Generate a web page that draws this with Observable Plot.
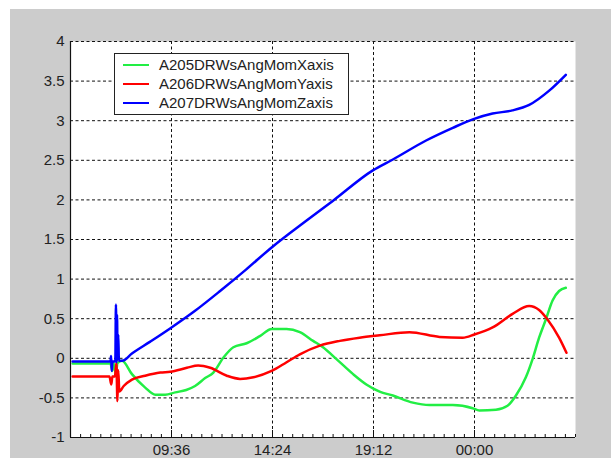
<!DOCTYPE html>
<html>
<head>
<meta charset="utf-8">
<script src="https://cdn.jsdelivr.net/npm/d3@7"></script>
<script src="https://cdn.jsdelivr.net/npm/@observablehq/plot@0.6"></script>
<style>
  html, body { margin: 0; padding: 0; background: #ffffff; }
  #wrap { position: absolute; left: 10px; top: 9px; width: 601px; height: 449px; background: #cccccc; overflow: hidden; }
  #legend { position: absolute; left: 104px; top: 44px; width: 233px; height: 60px; background: #fff; border: 1px solid #222;
            font: 15px "Liberation Sans", Arial, sans-serif; color: #222; }
  .row { position: absolute; left: 0; height: 19px; }
  .sw { position: absolute; left: 8px; width: 26px; height: 2px; }
  .lab { position: absolute; left: 44px; white-space: nowrap; line-height: 19px; }
</style>
</head>
<body>
<div id="wrap"><div id="chart"></div><div id="legend"></div></div>
<script>
// ---- data (hours after 04:48 start) ----
const startTime = "04:48";
const seriesNames = ["A205DRWsAngMomXaxis", "A206DRWsAngMomYaxis", "A207DRWsAngMomZaxis"];
const seriesColors = ["#22ee44", "#ff0000", "#0000ff"];

const hoursX = [0.1, 1.90, 1.99, 2.04, 2.16, 2.23, 2.45, 2.92, 3.55, 4.03, 4.50, 4.98, 5.50, 5.92, 6.40, 6.79, 7.27, 7.74, 8.37, 9.00, 9.56, 10.27, 10.90, 11.53, 12.00, 12.64, 13.43, 14.06, 14.69, 15.32, 16.27, 17.06, 18.17, 19.11, 19.43, 20.22, 20.77, 21.17, 21.64, 21.96, 22.27, 22.59, 22.91, 23.22, 23.54];
const valuesX = [-0.065, -0.065, -0.16, -0.06, -0.19, -0.06, -0.03, -0.20, -0.37, -0.46, -0.46, -0.43, -0.40, -0.35, -0.25, -0.18, 0.01, 0.14, 0.19, 0.28, 0.37, 0.37, 0.33, 0.22, 0.14, -0.01, -0.20, -0.33, -0.42, -0.47, -0.56, -0.59, -0.59, -0.63, -0.66, -0.65, -0.60, -0.47, -0.24, -0.01, 0.26, 0.49, 0.73, 0.85, 0.89];

const hoursY = [0.1, 1.85, 1.94, 1.99, 2.11, 2.18, 2.23, 2.27, 2.32, 2.53, 2.92, 3.55, 4.27, 4.74, 5.53, 6.07, 6.64, 7.43, 8.06, 8.69, 9.56, 10.27, 10.90, 11.85, 12.80, 13.74, 14.69, 16.11, 17.54, 18.64, 19.19, 20.06, 21.01, 21.80, 22.27, 22.67, 23.22, 23.57];
const valuesY = [-0.23, -0.23, -0.33, -0.23, -0.23, -0.06, -0.54, -0.15, -0.42, -0.35, -0.27, -0.22, -0.18, -0.17, -0.12, -0.09, -0.12, -0.22, -0.26, -0.24, -0.16, -0.05, 0.05, 0.16, 0.22, 0.26, 0.29, 0.33, 0.27, 0.26, 0.30, 0.39, 0.56, 0.66, 0.61, 0.49, 0.26, 0.07];

const hoursZ = [0.1, 1.90, 1.93, 1.96, 1.99, 2.13, 2.16, 2.19, 2.21, 2.24, 2.27, 2.30, 2.46, 2.92, 3.79, 4.75, 5.92, 7.11, 8.34, 9.56, 11.22, 12.48, 14.35, 15.32, 16.90, 18.17, 19.15, 20.06, 21.00, 21.80, 22.75, 23.54];
const valuesZ = [-0.04, -0.04, 0.03, -0.16, -0.04, -0.04, 0.68, -0.05, 0.55, -0.02, 0.30, -0.03, -0.03, 0.06, 0.21, 0.38, 0.60, 0.85, 1.12, 1.40, 1.74, 1.99, 2.37, 2.51, 2.75, 2.91, 3.02, 3.09, 3.13, 3.20, 3.38, 3.58];

const xTickLabels = ["09:36", "14:24", "19:12", "00:00"];
const yTicks = [-1, -0.5, 0, 0.5, 1, 1.5, 2, 2.5, 3, 3.5, 4];

// ---- build ----
const [sh, sm] = startTime.split(":").map(Number);
const t0 = Date.UTC(2000, 0, 1, sh, sm);
const toDate = h => new Date(t0 + h * 3600e3);
const endDate = toDate(24);
const xTickDates = xTickLabels.map(s => {
  const [h, m] = s.split(":").map(Number);
  let off = (h * 60 + m - (sh * 60 + sm)) / 60;
  if (off < 0) off += 24;
  return toDate(off);
});
const minorDates = d3.range(0, 51).map(i => toDate(i * 0.48));

const rows = [];
[[hoursX, valuesX], [hoursY, valuesY], [hoursZ, valuesZ]].forEach(([hs, vs], k) => {
  hs.forEach((h, i) => rows.push({t: toDate(h), v: vs[i], s: seriesNames[k]}));
});

const W = 601, H = 449, mL = 60, mR = 36, mT = 32, mB = 21;
const innerH = H - mT - mB;

const chart = Plot.plot({
  width: W, height: H,
  marginLeft: mL, marginRight: mR, marginTop: mT, marginBottom: mB,
  style: {background: "transparent", fontFamily: "'Liberation Sans', Arial, sans-serif", fontSize: "15px", color: "#222"},
  x: {type: "utc", domain: [toDate(0), endDate], label: null},
  y: {domain: [-1, 4], label: null},
  color: {domain: seriesNames, range: seriesColors},
  marks: [
    Plot.frame({fill: "white", stroke: "none"}),
    Plot.ruleY(yTicks.filter(d => d > -1), {stroke: "#111", strokeDasharray: "3,2.5", strokeWidth: 1}),
    Plot.ruleX(xTickDates, {stroke: "#111", strokeDasharray: "3,2.5", strokeWidth: 1}),
    Plot.ruleX(minorDates, {stroke: "#111", insetTop: innerH - 3}),
    Plot.ruleX(xTickDates, {stroke: "#111", insetTop: innerH - 7}),
    Plot.line(rows, {x: "t", y: "v", z: "s", stroke: "s", strokeWidth: 2.5, strokeLinejoin: "round", curve: "monotone-x"}),
    Plot.ruleX([toDate(0)], {stroke: "#111", strokeWidth: 1.2}),
    Plot.ruleY([-1], {stroke: "#111", strokeWidth: 1.2}),
    Plot.axisY({ticks: yTicks, tickSize: 0, tickPadding: 6, tickFormat: d => String(d), fontSize: 15, label: null}),
    Plot.axisX({ticks: xTickDates, tickSize: 0, tickPadding: 7, tickFormat: d3.utcFormat("%H:%M"), fontSize: 15, label: null})
  ]
});
document.getElementById("chart").appendChild(chart);

// legend
const leg = document.getElementById("legend");
seriesNames.forEach((n, i) => {
  const r = document.createElement("div");
  r.className = "row";
  r.style.top = (1 + i * 19) + "px";
  r.innerHTML = `<div class="sw" style="top:9px;background:${seriesColors[i]}"></div><div class="lab">${n}</div>`;
  leg.appendChild(r);
});
</script>
</body>
</html>
